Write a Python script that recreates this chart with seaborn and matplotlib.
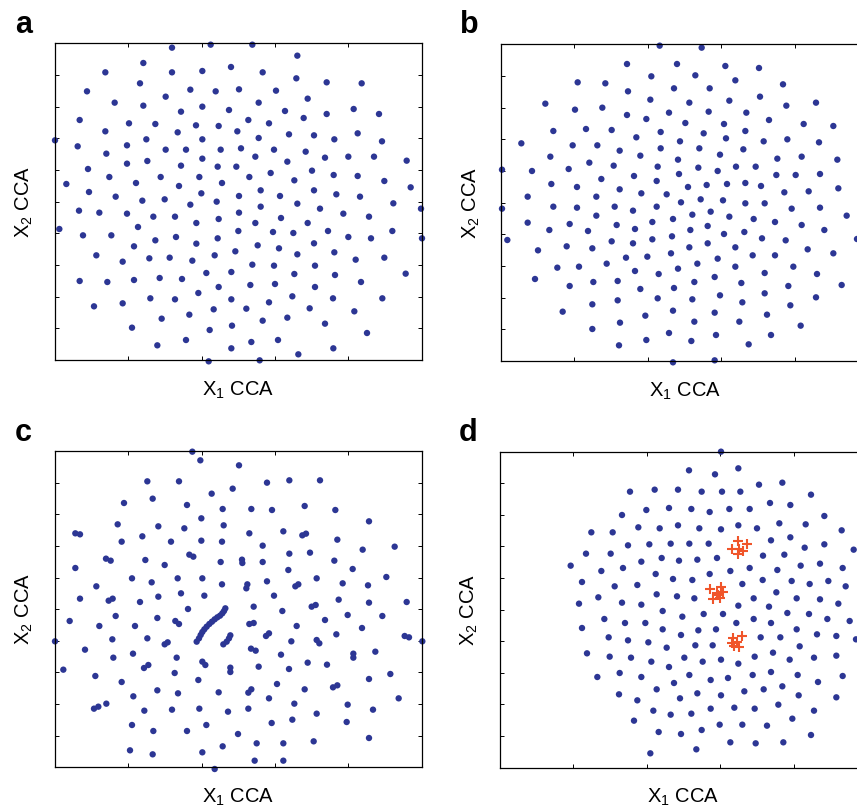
import numpy as np
import pandas as pd
import matplotlib
matplotlib.use("Agg")
import matplotlib.pyplot as plt
import seaborn as sns

sns.set_theme(style="white")
plt.rcParams["font.family"] = ["Liberation Sans", "DejaVu Sans"]
plt.rcParams["mathtext.default"] = "regular"

# ---------------------------------------------------------------------------
# Point readings. Each list holds (x, y) readings taken on a 3x enlargement of
# one part of the picture; `origin` is where that part starts (picture px).
# ---------------------------------------------------------------------------
a_top_origin = (50, 38)
a_top = [(366,29),(482,20),(607,20),(742,53),(280,75),(166,103),(366,103),(457,99),(543,87),(638,103),
         (739,121),(830,133),(935,136),(111,160),(270,136),(421,155),(497,160),(567,154),(678,158),
         (194,194),(280,203),(347,176),(773,182),(393,221),(457,206),(537,216),(626,194),(705,219),
         (911,213),(987,228),(89,246),(237,256),(316,258),(438,262),(506,264),(595,246),(657,256),
         (761,240),(830,228),(166,280),(383,283),(562,280),(717,289),(792,292),(923,286),(15,307),
         (289,304),(457,304),(626,300),(853,304),(996,310),(83,325),(231,322),(347,335),(408,335),
         (512,335),(573,331),(672,335),(767,341),(895,356),(972,356),(1070,368),(169,347),(616,356),
         (825,359),(231,377),(292,369),(393,383),(457,362),(503,386),(559,386),(712,371),(114,393),
         (786,398),(49,438),(178,417),(258,435),(332,417),(387,444),(448,417),(516,435),(598,417),
         (662,405),(733,427),(851,411),(923,414),(1003,429),(1082,448),(117,462),(454,466),(632,457),
         (792,457),(859,469)]
a_bot_origin = (50, 195)
a_bot = [(197,5),(277,17),(344,13),(421,29),(500,20),(567,3),(690,3),(742,26),(930,5),(1030,25),(1113,41),
         (87,47),(148,53),(231,56),(310,65),(375,65),(439,84),(506,72),(567,53),(632,35),(693,69),(773,84),
         (810,41),(880,56),(957,65),(28,102),(264,96),(99,121),(184,121),(316,136),(378,126),(439,146),
         (503,130),(565,108),(616,84),(669,111),(730,114),(834,108),(895,126),(963,130),(1027,108),
         (1116,130),(252,154),(139,181),(218,200),(298,190),(359,188),(427,197),(494,181),(556,169),
         (623,151),(687,160),(742,178),(792,145),(853,172),(917,194),(1003,188),(469,234),(544,231),
         (607,209),(672,212),(733,237),(795,212),(855,240),(933,261),(1067,236),(89,258),(172,261),
         (252,255),(329,249),(396,252),(506,276),(601,270),(675,267),(795,276),(445,294),(544,313),
         (657,322),(727,304),(849,310),(997,310),(132,334),(218,325),(301,310),(375,313),(491,343),
         (589,341),(779,340),(913,349),(335,371),(418,359),(638,377),(712,368),(825,386),(246,398),
         (479,405),(546,392),(951,414),(322,451),(408,435),(544,460),(604,441),(684,435),(850,460),
         (745,478),(476,499),(629,496)]

b_top_origin = (497, 38)
b_top = [(488,23),(614,29),(390,78),(540,78),(685,84),(786,90),(463,115),(595,112),(715,127),(242,133),
         (325,136),(531,151),(638,151),(858,139),(393,160),(460,185),(577,194),(697,188),(789,176),
         (868,203),(957,194),(145,197),(234,215),(316,209),(390,231),(448,243),(516,224),(635,221),
         (748,224),(816,246),(920,258),(1009,264),(169,279),(267,273),(344,276),(565,255),(681,258),
         (745,279),(491,282),(620,286),(418,298),(687,301),(549,310),(800,310),(871,304),(966,313),
         (73,316),(227,322),(301,322),(368,338),(491,331),(607,331),(739,334),(160,356),(430,353),
         (669,350),(841,362),(914,356),(1021,365),(15,395),(105,399),(215,393),(277,374),(350,383),
         (482,386),(543,365),(604,389),(717,386),(776,386),(411,414),(546,408),(662,399),(838,411),
         (896,411),(969,408),(163,438),(240,447),(313,423),(368,454),(479,429),(573,447),(629,441),
         (690,438),(745,435),(792,444),(1024,451),(433,466),(509,469),(862,463),(935,460)]
b_bot_origin = (497, 195)
b_bot = [(92,5),(298,5),(552,22),(611,13),(678,16),(745,25),(803,25),(15,41),(169,35),(240,38),(353,35),
         (408,47),(479,35),(884,41),(969,38),(1049,62),(92,83),(157,105),(218,87),(273,108),(298,62),
         (359,90),(414,102),(466,81),(528,72),(586,59),(641,50),(697,65),(770,72),(834,81),(914,90),
         (982,105),(31,135),(123,166),(209,154),(286,160),(344,139),(408,145),(466,133),(525,124),
         (580,105),(632,93),(681,117),(742,111),(795,130),(866,136),(1080,132),(577,157),(632,145),
         (715,157),(932,163),(1009,175),(181,218),(246,215),(329,206),(387,188),(451,185),(522,175),
         (601,206),(662,191),(715,215),(767,181),(834,181),(889,215),(114,252),(218,273),(289,261),
         (362,258),(414,228),(485,237),(543,221),(592,261),(653,246),(733,264),(803,234),(874,273),
         (960,237),(1034,270),(286,328),(362,316),(430,282),(482,310),(531,279),(586,313),(669,301),
         (736,322),(803,295),(880,331),(957,307),(197,350),(369,383),(445,362),(528,347),(592,380),
         (653,353),(727,380),(810,359),(286,402),(516,414),(583,438),(657,420),(911,392),(822,420),
         (366,451),(448,435),(755,448),(528,502),(653,496)]

c_top_origin = (50, 445)
c_top = [(427,20),(451,46),(567,61),(292,109),(387,109),(651,113),(718,106),(810,106),(485,146),(548,131),
         (308,161),(222,174),(411,180),(518,192),(604,192),(666,195),(764,183),(856,195),(454,220),
         (957,229),(203,238),(325,244),(403,250),(521,241),(76,265),(90,268),(277,274),(598,265),
         (700,259),(757,271),(768,266),(215,290),(363,290),(454,287),(516,290),(862,284),(638,302),
         (1034,305),(938,314),(418,329),(430,335),(718,326),(780,323),(168,341),(182,347),(286,345),
         (344,360),(512,351),(576,344),(577,354),(638,351),(853,347),(76,369),(715,375),(908,372),
         (246,400),(383,400),(457,400),(800,400),(1009,396),(139,424),(305,412),(516,418),(592,418),
         (589,430),(651,409),(736,424),(745,418),(878,415),(954,421),(90,461),(176,467),(188,461),
         (325,455),(393,445),(463,452),(672,452),(866,464)]
c_bot_origin = (50, 600)
c_bot = [(270,6),(957,8),(1070,6),(414,27),(611,20),(697,33),(785,20),(797,15),
         (440,125),(447,115),(452,105),(457,96),(463,88),(470,80),(478,72),(486,65),(494,58),(502,52),
         (510,47),(517,40),(522,33),(526,25),
         (59,63),(148,78),(197,48),(255,78),(322,54),(376,63),(387,72),(598,72),(611,69),(740,78),
         (825,60),(893,45),(997,48),(15,124),(105,149),(187,118),(292,115),(344,133),(353,127),
         (520,133),(530,125),(537,115),(541,106),(648,108),(657,100),(724,124),(800,120),(808,130),
         (859,103),(936,84),(1064,108),(1077,112),(1117,124),(603,146),(617,152),(693,164),(910,161),
         (910,173),(976,155),(190,173),(249,161),(380,173),(40,209),(282,204),(295,195),(457,185),
         (466,195),(541,203),(541,216),(626,200),(717,207),(773,188),(831,194),(374,219),(136,228),
         (215,246),(445,240),(1021,222),(957,237),(681,252),(250,289),(322,271),(384,280),(506,277),
         (595,278),(604,268),(657,295),(764,268),(849,262),(862,256),(1046,295),(132,326),(145,320),
         (169,311),(283,332),(366,329),(448,326),(534,335),(595,326),(733,311),(893,314),(969,329),
         (246,375),(310,393),(411,393),(469,375),(665,369),(727,359),(800,341),(890,366),(564,402),
         (957,414),(240,451),(308,463),(457,457),(518,439),(620,430),(700,430),(791,424),(614,482),
         (700,482),(494,507)]

d_top_origin = (497, 445)
d_top = [(672,20),(576,76),(654,88),(724,70),(399,140),(473,134),(543,134),(614,140),(675,140),(730,140),
         (786,119),(856,113),(942,149),(375,210),(448,195),(516,189),(583,192),(638,201),(697,192),
         (758,192),(819,174),(880,180),(982,213),(283,262),(347,262),(424,247),(488,250),(543,241),
         (607,250),(672,253),(724,241),(780,250),(847,235),(926,238),(1034,256),(393,301),(457,298),
         (521,296),(577,296),(635,296),(822,286),(880,277),(923,308),(982,298),(1070,314),(267,326),
         (341,326),(494,339),(546,347),(601,344),(660,339),(798,332),(862,329),(221,362),(313,378),
         (378,369),(433,350),(476,387),(638,387),(700,378),(758,369),(841,375),(911,362),(969,356),
         (1037,369),(255,411),(353,424),(421,420),(528,402),(586,405),(736,417),(797,405),(884,408),
         (938,417),(994,408),(1046,424),(838,442),(304,457),(479,448),(540,454),(592,460),(770,460),
         (899,460),(969,463)]
d_bot_origin = (497, 600)
d_bot = [(246,11),(375,8),(433,14),(724,17),(816,20),(1024,11),(497,33),(556,50),(620,42),(678,42),
         (322,57),(384,69),(445,69),(718,69),(770,57),(822,69),(871,39),(936,42),(991,57),(1058,63),
         (255,84),(497,88),(552,105),(604,91),(657,88),(899,88),(960,103),(1018,108),(1077,118),
         (335,112),(393,121),(454,127),(509,143),(595,136),(647,136),(791,112),(850,112),(908,139),
         (270,160),(338,170),(402,173),(463,185),(516,201),(562,173),(617,185),(672,179),(724,191),
         (773,170),(828,158),(878,179),(951,173),(1018,167),(301,231),(368,219),(433,231),(531,249),
         (577,225),(641,240),(693,234),(767,225),(822,216),(902,225),(963,246),(1037,228),(479,268),
         (601,280),(672,286),(742,274),(800,268),(856,259),(905,286),(1018,292),(366,283),(421,301),
         (549,295),(469,332),(521,344),(583,341),(641,326),(712,323),(773,326),(844,314),(951,332),
         (411,362),(668,374),(736,374),(810,377),(886,356),(485,396),(552,402),(614,390),(700,427),
         (776,430),(859,427),(942,405),(460,460),(598,448)]

d_red_origin = (690, 525)
d_red = [(143,48),(170,56),(125,72),(148,72),(160,78),(145,86),
         (60,192),(92,185),(100,200),(85,210),(70,222),(90,218),(80,203),
         (130,340),(155,332),(125,355),(140,350),(148,365),(132,362)]


def to_frame(parts, group):
    rows = []
    for origin, pts in parts:
        for zx, zy in pts:
            rows.append((origin[0] + zx / 3.0, origin[1] + zy / 3.0))
    df = pd.DataFrame(rows, columns=["x", "y"])
    df["group"] = group
    return df


panels = {
    "a": dict(parts=[(a_top_origin, a_top), (a_bot_origin, a_bot)],
              box=(54.7, 43.3, 421.7, 360.0), label_xy=(15, 33)),
    "b": dict(parts=[(b_top_origin, b_top), (b_bot_origin, b_bot)],
              box=(501.0, 44.3, 868.4, 360.8), label_xy=(460, 33)),
    "c": dict(parts=[(c_top_origin, c_top), (c_bot_origin, c_bot)],
              box=(54.7, 451.0, 421.7, 767.3), label_xy=(15, 441)),
    "d": dict(parts=[(d_top_origin, d_top), (d_bot_origin, d_bot)],
              box=(499.7, 451.5, 867.0, 767.5), label_xy=(459, 441)),
}

W, H = 857, 808
fig = plt.figure(figsize=(W / 100, H / 100), dpi=100)
blue = "#2c3694"
red = "#f0552a"

for key, p in panels.items():
    x0, y0, x1, y1 = p["box"]
    ax = fig.add_axes([x0 / W, 1 - y1 / H, (x1 - x0) / W, (y1 - y0) / H])
    df = to_frame(p["parts"], "pts")
    sns.scatterplot(data=df, x="x", y="y", ax=ax, color=blue, s=21,
                    edgecolor="none", linewidth=0, clip_on=False, legend=False)
    if key == "d":
        dr = to_frame([(d_red_origin, d_red)], "red")
        sns.scatterplot(data=dr, x="x", y="y", ax=ax, color=red, marker="+",
                        s=42, linewidth=1.5, clip_on=False, legend=False)
    ax.set_xlim(x0, x1)
    ax.set_ylim(y1, y0)
    ax.set_xticks(np.linspace(x0, x1, 6)[1:-1])
    ax.set_yticks(np.linspace(y0, y1, 11)[1:-1])
    ax.tick_params(direction="in", length=3, width=0.7, top=True, right=True,
                   bottom=True, left=True, labelbottom=False, labelleft=False,
                   color="black")
    for s in ax.spines.values():
        s.set_color("black")
        s.set_linewidth(0.9)
        s.set_visible(True)
    ax.set_xlabel("X$_1$ CCA", fontsize=14.5, labelpad=14, color="black")
    ax.set_ylabel("X$_2$ CCA", fontsize=14.5, labelpad=14, color="black")
    lx, ly = p["label_xy"]
    fig.text(lx / W, 1 - ly / H, key, fontsize=22, fontweight="bold",
             ha="left", va="baseline", color="black")

fig.savefig("out.png", dpi=100)
